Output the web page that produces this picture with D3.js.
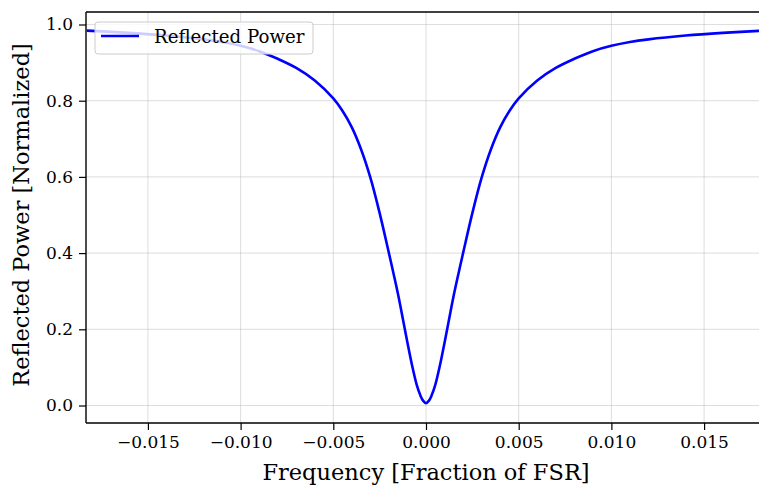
<!DOCTYPE html>
<html>
<head>
<meta charset="utf-8">
<script src="https://cdn.jsdelivr.net/npm/d3@7"></script>
<style>
  body { margin: 0; background: #fff; }
  svg { display: block; font-family: "DejaVu Serif", serif; }
</style>
</head>
<body>
<div id="chart"></div>
<script>

// values
var freq = [-0.0183, -0.016, -0.014, -0.012, -0.011, -0.010, -0.009, -0.008, -0.007, -0.006,
            -0.005, -0.0045, -0.004, -0.0035, -0.003, -0.0025, -0.002, -0.00175, -0.0015,
            -0.00125, -0.001, -0.00075, -0.0005, -0.0003, -0.00015, 0,
            0.00015, 0.0003, 0.0005, 0.00075, 0.001, 0.00125, 0.0015, 0.00175, 0.002,
            0.0025, 0.003, 0.0035, 0.004, 0.0045, 0.005, 0.006, 0.007, 0.008, 0.009,
            0.010, 0.011, 0.012, 0.014, 0.016, 0.0183];
var power = [0.984, 0.978, 0.971, 0.961, 0.954, 0.944, 0.930, 0.910, 0.886, 0.853,
             0.806, 0.773, 0.730, 0.672, 0.598, 0.505, 0.400, 0.346, 0.290,
             0.228, 0.165, 0.105, 0.054, 0.026, 0.012, 0.006,
             0.012, 0.026, 0.054, 0.105, 0.165, 0.228, 0.290, 0.346, 0.400,
             0.505, 0.598, 0.672, 0.730, 0.773, 0.806, 0.853, 0.886, 0.910, 0.930,
             0.944, 0.954, 0.961, 0.971, 0.978, 0.984];

var xTicks = [-0.015, -0.010, -0.005, 0.000, 0.005, 0.010, 0.015];
var yTicks = [0.0, 0.2, 0.4, 0.6, 0.8, 1.0];

var seriesName = "Reflected Power";

// set the dimensions and margins of the graph
var margin = {top: 12, left: 86},
    width = 680,
    height = 411;

var x = d3.scaleLinear().domain([-0.01834, 0.01834]).range([0, width]);
var y = d3.scaleLinear().domain([-0.0459, 1.0328]).range([height, 0]);

var data = freq.map(function(f, i) { return {f: f, p: power[i]}; });

var svg = d3.select("#chart").append("svg")
    .attr("width", 759)
    .attr("height", 485)
  .append("g")
    .attr("transform", "translate(" + margin.left + "," + margin.top + ")");

svg.append("defs").append("clipPath")
    .attr("id", "clip")
  .append("rect")
    .attr("width", width)
    .attr("height", height);

// grid lines
svg.append("g")
    .selectAll("line")
    .data(xTicks)
  .enter().append("line")
    .attr("x1", function(d) { return x(d); })
    .attr("x2", function(d) { return x(d); })
    .attr("y1", 0)
    .attr("y2", height)
    .style("stroke", "#b0b0b0")
    .style("stroke-opacity", 0.55)
    .style("stroke-width", 0.8);

svg.append("g")
    .selectAll("line")
    .data(yTicks)
  .enter().append("line")
    .attr("x1", 0)
    .attr("x2", width)
    .attr("y1", function(d) { return y(d); })
    .attr("y2", function(d) { return y(d); })
    .style("stroke", "#b0b0b0")
    .style("stroke-opacity", 0.55)
    .style("stroke-width", 0.8);

// the curve
var valueline = d3.line()
    .curve(d3.curveCatmullRom.alpha(0.5))
    .x(function(d) { return x(d.f); })
    .y(function(d) { return y(d.p); });

svg.append("path")
    .datum(data)
    .attr("clip-path", "url(#clip)")
    .attr("d", valueline)
    .style("fill", "none")
    .style("stroke", "#0000ff")
    .style("stroke-width", 2.6)
    .style("stroke-linejoin", "round");

// axes
var xAxis = svg.append("g")
    .attr("transform", "translate(0," + height + ")")
    .call(d3.axisBottom(x).tickValues(xTicks).tickSize(7).tickPadding(6)
      .tickFormat(function(d) { return d3.format(".3f")(d).replace("-", "\u2212"); }));

var yAxis = svg.append("g")
    .call(d3.axisLeft(y).tickValues(yTicks).tickSize(7).tickPadding(6)
      .tickFormat(d3.format(".1f")));

[xAxis, yAxis].forEach(function(a) {
  a.select(".domain").remove();
  a.selectAll(".tick line").style("stroke", "#000").style("stroke-width", 1.2);
  a.selectAll(".tick text")
      .style("font-family", "DejaVu Serif")
      .style("font-size", "17px")
      .style("fill", "#000");
});

// spines
svg.append("line").attr("x1", 0).attr("x2", 0).attr("y1", 0).attr("y2", height)
    .style("stroke", "#000").style("stroke-width", 1.4);
svg.append("line").attr("x1", 0).attr("x2", width).attr("y1", height).attr("y2", height)
    .style("stroke", "#000").style("stroke-width", 1.4);
svg.append("line").attr("x1", 0).attr("x2", width).attr("y1", 0).attr("y2", 0)
    .style("stroke", "#000").style("stroke-width", 1.4);

// legend
var legend = svg.append("g").attr("transform", "translate(9,10)");
legend.append("rect")
    .attr("width", 218)
    .attr("height", 32)
    .attr("rx", 3)
    .style("fill", "#fff")
    .style("fill-opacity", 0.8)
    .style("stroke", "#cccccc")
    .style("stroke-width", 1);
legend.append("line")
    .attr("x1", 6).attr("x2", 44)
    .attr("y1", 14).attr("y2", 14)
    .style("stroke", "#0000ff")
    .style("stroke-width", 2.6);
legend.append("text")
    .attr("x", 59)
    .attr("y", 21)
    .style("font-size", "18.2px")
    .text(seriesName);

// text label for the x axis
svg.append("text")
    .attr("x", 340)
    .attr("y", height + 57)
    .style("text-anchor", "middle")
    .style("font-size", "22.5px")
    .text("Frequency [Fraction of FSR]");

// text label for the y axis
svg.append("text")
    .attr("transform", "rotate(-90)")
    .attr("x", -(y(0.5)))
    .attr("y", -57)
    .style("text-anchor", "middle")
    .style("font-size", "22.5px")
    .text("Reflected Power [Normalized]");

</script>
</body>
</html>
